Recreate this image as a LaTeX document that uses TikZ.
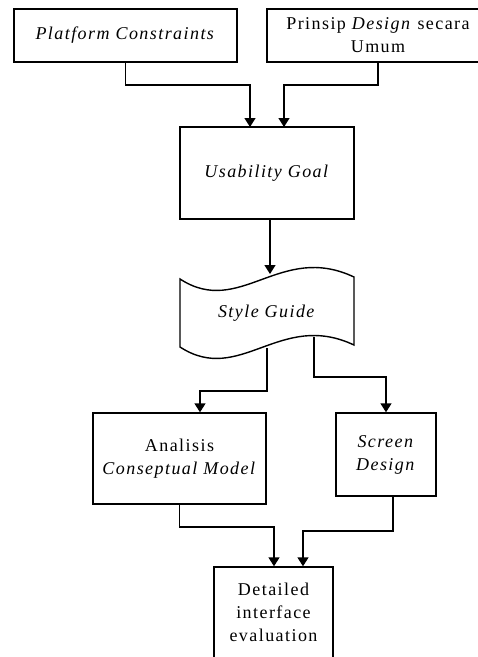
\documentclass[tikz,border=0pt]{standalone}
\usepackage{fontspec}
\setmainfont{Liberation Serif}[LetterSpace=8]
\usetikzlibrary{arrows.meta}
\begin{document}
\begin{tikzpicture}[x=1pt,y=-1pt,
  every node/.style={font=\fontsize{18}{23}\selectfont, align=center, inner sep=0pt},
  box/.style={draw, line width=1.4pt, rectangle},
  line/.style={line width=1.4pt},
  arr/.style={line width=1.4pt, -{Triangle[width=11pt,length=9pt]}}]
\useasboundingbox (0,0) rectangle (478,657);
% boxes
\node[box, minimum width=223pt, minimum height=53pt] (pc) at (125.5,35.5) {\textit{Platform Constraints}};
\node[box, minimum width=222pt, minimum height=53pt] (pd) at (378,35.5) {Prinsip \textit{Design} secara\\Umum};
\node[box, minimum width=174pt, minimum height=92pt] (ug) at (267,173) {\textit{Usability Goal}};
% style guide (punched tape shape)
\draw[line] (180,279) .. controls (240,318) and (280,242) .. (354,277)
  -- (354,345) .. controls (280,310) and (240,386) .. (180,347) -- cycle;
\node (sg) at (267,313) {\textit{Style Guide}};
\coordinate (sgin) at (270,274);
\coordinate (sgl) at (267,348);
\coordinate (sgr) at (314,337);
\node[box, minimum width=173pt, minimum height=91pt] (an) at (179.5,458.5) {Analisis\\\textit{Conseptual Model}};
\node[box, minimum width=100pt, minimum height=83pt] (sd) at (386,454.5) {\textit{Screen}\\\textit{Design}};
\node[box, minimum width=119pt, minimum height=113pt] (de) at (273.5,623.5) {};
\node (det) at (273.5,612) {Detailed\\interface\\evaluation};
% connectors
\draw[arr] (pc.south) |- (250,85) -- (250,127);
\draw[arr] (pd.south) |- (284,85) -- (284,127);
\draw[arr] (ug.south -| sgin) -- (sgin);
\draw[arr] (sgl) |- (200,391) -- (an.north -| 200,0);
\draw[arr] (sgr) |- (386,377) -- (sd.north);
\draw[arr] (an.south) |- (274,527) -- (de.north -| 274,0);
\draw[arr] ([xshift=7pt]sd.south) |- (303,531) -- (de.north -| 303,0);
\end{tikzpicture}
\end{document}
